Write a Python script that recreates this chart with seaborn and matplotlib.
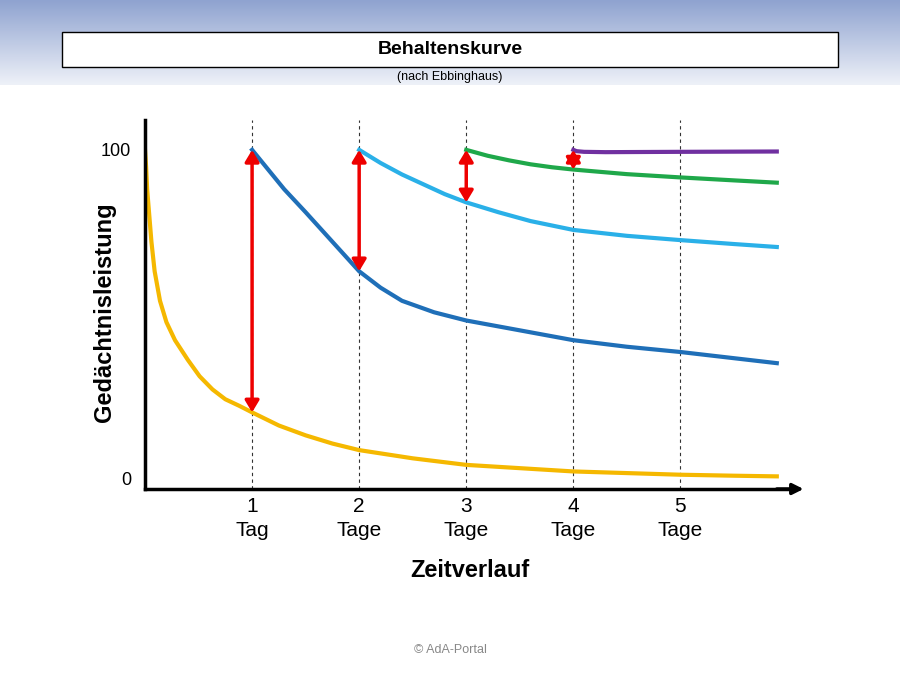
import numpy as np
import pandas as pd
import matplotlib
matplotlib.use("Agg")
import matplotlib.pyplot as plt
import seaborn as sns

# values (x in days, y in % retention)
yellow_x = [0.0, 0.01, 0.02, 0.04, 0.06, 0.09, 0.14, 0.2, 0.28, 0.4, 0.51, 0.63, 0.75, 0.88, 1.0,
            1.25, 1.5, 1.75, 2.0, 2.5, 3.0, 3.5, 4.0, 4.5, 5.0, 5.5, 5.9]
yellow_y = [100, 95, 88, 80, 72, 63, 54, 47.5, 42, 36, 31, 27, 24, 22, 20,
            16, 13, 10.5, 8.5, 6, 4, 3, 2, 1.5, 1, 0.7, 0.5]
blue_x = [1.0, 1.15, 1.3, 1.5, 1.75, 2.0, 2.2, 2.4, 2.7, 3.0, 3.5, 4.0, 4.5, 5.0, 5.9]
blue_y = [100, 94, 88, 81, 72, 63, 58, 54, 50.5, 48, 45, 42, 40, 38.4, 35]
lblue_x = [2.0, 2.2, 2.4, 2.6, 2.8, 3.0, 3.3, 3.6, 4.0, 4.5, 5.0, 5.5, 5.9]
lblue_y = [100, 96, 92.5, 89.5, 86.5, 84, 81, 78.3, 75.6, 73.8, 72.5, 71.3, 70.4]
green_x = [3.0, 3.2, 3.4, 3.6, 3.8, 4.0, 4.5, 5.0, 5.5, 5.9]
green_y = [100, 98.2, 96.8, 95.6, 94.7, 94, 92.6, 91.6, 90.7, 90]
purple_x = [4.0, 4.03, 4.1, 4.3, 5.0, 5.9]
purple_y = [100, 99.6, 99.4, 99.3, 99.4, 99.5]
arrow_x = [1, 2, 3, 4]
arrow_lo = [20, 63, 84, 94]
day_ticks = [1, 2, 3, 4, 5]
day_labels = ["1\nTag", "2\nTage", "3\nTage", "4\nTage", "5\nTage"]

fig = plt.figure(figsize=(9, 6.75), dpi=100)

# header gradient band
bg = fig.add_axes([0, 1 - 85 / 675, 1, 85 / 675])
grad = np.linspace(0, 1, 100).reshape(-1, 1)
cmap = matplotlib.colors.LinearSegmentedColormap.from_list("g", ["#8fa3d0", "#eef1f8"])
bg.imshow(grad, aspect="auto", cmap=cmap, extent=[0, 1, 0, 1])
bg.axis("off")

fig.patches.append(plt.Rectangle((62 / 900, 1 - 67 / 675), 776 / 900, 35 / 675,
                                 transform=fig.transFigure, facecolor="white",
                                 edgecolor="black", lw=1))
fig.text(0.5, 1 - 49 / 675, "Behaltenskurve", ha="center", va="center",
         fontsize=14, fontweight="bold", family="Liberation Sans")
fig.text(0.5, 1 - 77 / 675, "(nach Ebbinghaus)", ha="center", va="center",
         fontsize=9, family="Liberation Sans")
fig.text(0.5, 1 - 650 / 675, "© AdA-Portal", ha="center", va="center",
         fontsize=9, color="#888888", family="Liberation Sans")

ax = fig.add_axes([145 / 900, 1 - 489 / 675, 650 / 900, 369 / 675])
ax.set_xlim(0, 6.07)
ax.set_ylim(-3.35, 109.1)

for x in day_ticks:
    ax.axvline(x, color="#333333", ls=(0, (3, 3)), lw=0.8)

curves = [(yellow_x, yellow_y, "#f5b800"), (blue_x, blue_y, "#1f6fb8"),
          (lblue_x, lblue_y, "#2ab0e8"), (green_x, green_y, "#1fa84a"),
          (purple_x, purple_y, "#7030a0")]
for xs, ys, c in curves:
    df = pd.DataFrame({"x": xs, "y": ys})
    sns.lineplot(data=df, x="x", y="y", ax=ax, color=c, lw=3)

for x, lo in zip(arrow_x, arrow_lo):
    ax.annotate("", xy=(x, 100), xytext=(x, lo),
                arrowprops=dict(arrowstyle="<|-|>,head_length=0.5,head_width=0.3",
                                color="#ee0000", lw=2.5,
                                mutation_scale=14, shrinkA=0, shrinkB=0))

for s in ["top", "right"]:
    ax.spines[s].set_visible(False)
ax.spines["left"].set_linewidth(2.5)
ax.spines["bottom"].set_linewidth(2.5)
ax.annotate("", xy=(6.15, -3.35), xytext=(5.9, -3.35), xycoords="data",
            arrowprops=dict(arrowstyle="-|>", color="black", lw=2.5,
                            mutation_scale=16, shrinkA=0, shrinkB=0),
            annotation_clip=False)
ax.set_yticks([0, 100])
ax.set_yticklabels(["0", "100"], fontsize=13, family="Liberation Sans")
ax.set_xticks(day_ticks)
ax.set_xticklabels(day_labels, fontsize=15, family="Liberation Sans", linespacing=1.3)
ax.tick_params(axis="y", length=0, pad=10)
ax.tick_params(axis="x", length=0, pad=6)
ax.set_xlabel("Zeitverlauf", fontsize=17, fontweight="bold",
              family="Liberation Sans", labelpad=14)
ax.set_ylabel("Gedächtnisleistung", fontsize=17, fontweight="bold",
              family="Liberation Sans")
ax.yaxis.set_label_coords(-0.045, 0.48)

fig.savefig("out.png", dpi=100)
